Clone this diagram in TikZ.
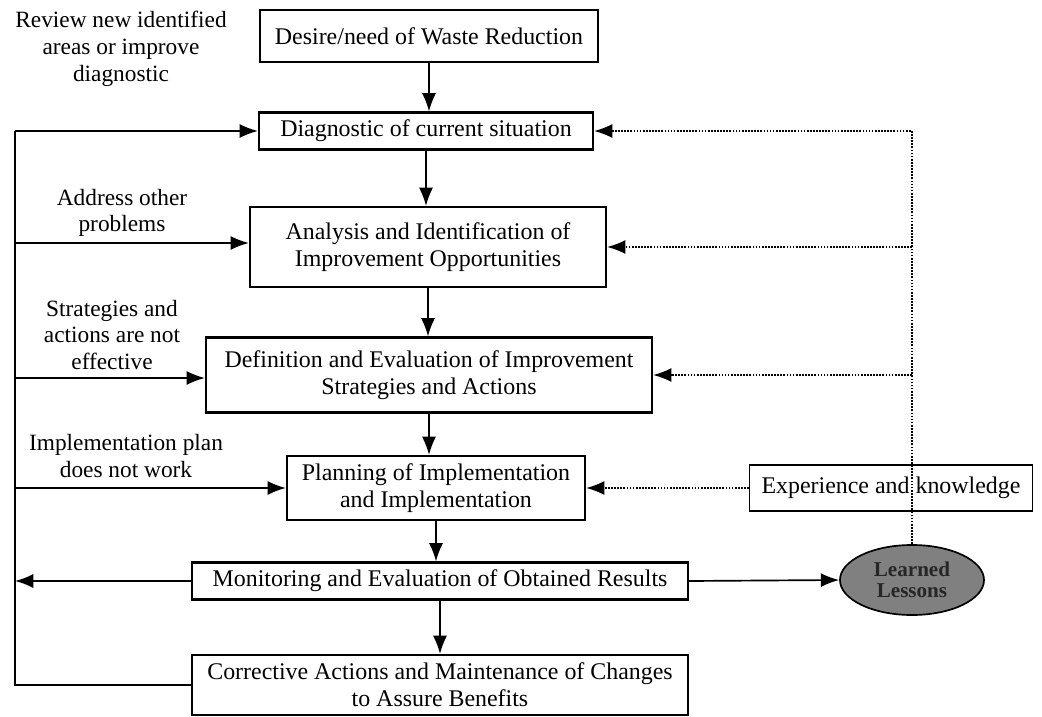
\documentclass[tikz,border=0pt]{standalone}
\usepackage{fontspec}
\setmainfont{Liberation Serif}
\usetikzlibrary{arrows.meta,shapes.geometric,calc}

\begin{document}
\begin{tikzpicture}[x=0.025cm,y=-0.025cm,>={Latex[length=13pt,width=10pt]},line width=1.2pt,
	box/.style={draw,line width=1.5pt,align=center,inner sep=0pt,font=\fontsize{17}{19}\selectfont},
	note/.style={align=center,font=\fontsize{16.6}{19}\selectfont},
	link/.style={densely dotted,line width=1.2pt}]

\useasboundingbox (0,0) rectangle (1042,717);

% main chain
\node[box,minimum width=8.45cm,minimum height=1.3cm] (desire) at (429,36)
	{Desire/need of Waste Reduction};
\node[box,minimum width=8.35cm,minimum height=0.925cm] (diag) at (426,131)
	{Diagnostic of current situation};
\node[box,minimum width=8.9cm,minimum height=2cm] (ana) at (428,247)
	{Analysis and Identification of\\Improvement Opportunities};
\node[box,minimum width=11.15cm,minimum height=1.875cm] (def) at (429,375)
	{Definition and Evaluation of Improvement\\Strategies and Actions};
\node[box,minimum width=7.45cm,minimum height=1.6cm] (plan) at (436,488)
	{Planning of Implementation\\and Implementation};
\node[box,minimum width=12.4cm,minimum height=0.925cm] (mon) at (440,581)
	{Monitoring and Evaluation of Obtained Results};
\node[box,minimum width=12.4cm,minimum height=1.5cm] (corr) at (440,685)
	{Corrective Actions and Maintenance of Changes\\to Assure Benefits};

% side nodes
\node[box,line width=0.8pt,minimum width=7.075cm,minimum height=1.15cm] (exp) at (891,488)
	{Experience and knowledge};
\node[draw,ellipse,line width=1.2pt,fill=black!50,text=black!85,
	minimum width=3.6cm,minimum height=1.75cm,inner sep=0pt,align=center,
	font=\fontsize{15}{15}\selectfont\bfseries] (learn) at (912,580)
	{Learned\\Lessons};

% feedback labels
\node[note] (lreview) at (121,49) {Review new identified\\areas or improve\\diagnostic};
\node[note] (laddress) at (122,213) {Address other\\problems};
\node[note] (lstrat) at (112,335) {Strategies and\\actions are not\\effective};
\node[note] (limpl) at (126,456) {Implementation plan\\does not work};

\coordinate (top) at (15,131);

% downward flow
\draw[->] (desire) -- (desire |- diag.north);
\draw[->] (diag) -- (diag |- ana.north);
\draw[->] (ana) -- (ana |- def.north);
\draw[->] (def) -- (def |- plan.north);
\draw[->] (plan) -- (plan |- mon.north);
\draw[->] (mon) -- (mon |- corr.north);

% feedback loop on the left
\draw (corr.west) -| (top);
\draw[->] (top) -- (diag.west);
\draw[->] (top |- 0,243) -- (ana.west |- 0,243);
\draw[->] (top |- 0,378) -- (def.west |- 0,378);
\draw[->] (top |- plan) -- (plan.west);
\draw[->] (mon.west) -- (top |- mon);
\draw[->] (mon.east) -- (learn.west);

% lessons and experience
\draw[link,->] (learn.north) |- (diag.east);
\draw[link,->] (learn.north |- ana.east) -- (ana.east);
\draw[link,->] (learn.north |- def.east) -- (def.east);
\draw[link,->] (exp.west) -- (plan.east);

\end{tikzpicture}
\end{document}
